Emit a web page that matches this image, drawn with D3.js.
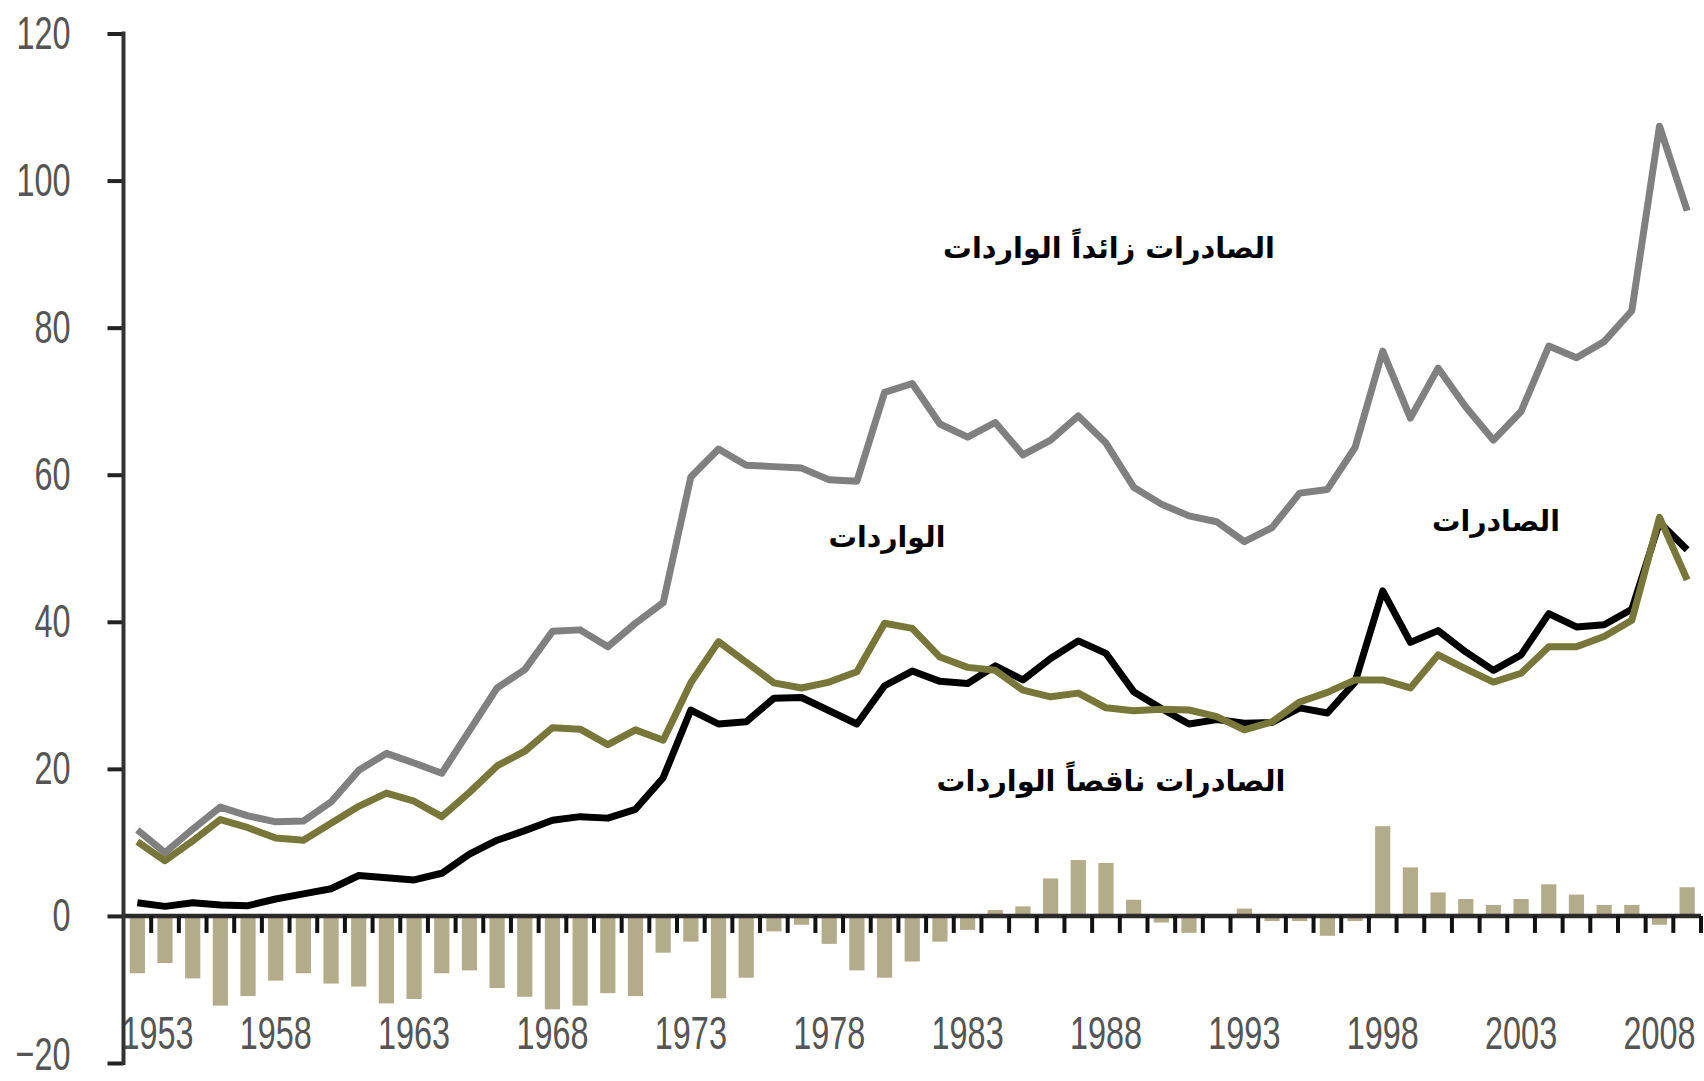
<!DOCTYPE html>
<html lang="ar">
<head>
  <meta charset="UTF-8">
  <title>الصادرات والواردات</title>
  <script src="https://d3js.org/d3.v7.min.js"></script>
  <style>
    body { margin: 0; background: #fff; }
    svg { display: block; }
    .num { font-family: "Liberation Sans", Arial, sans-serif; font-size: 47px; fill: #555; }
    .note { font-family: "DejaVu Sans", sans-serif; font-weight: bold; fill: #000; }
  </style>
</head>
<body>
<svg id="chart" width="1704" height="1081"></svg>
<script>
  // années (catégories)
  const years = [1953, 1954, 1955, 1956, 1957, 1958, 1959, 1960, 1961, 1962,
    1963, 1964, 1965, 1966, 1967, 1968, 1969, 1970, 1971, 1972,
    1973, 1974, 1975, 1976, 1977, 1978, 1979, 1980, 1981, 1982,
    1983, 1984, 1985, 1986, 1987, 1988, 1989, 1990, 1991, 1992,
    1993, 1994, 1995, 1996, 1997, 1998, 1999, 2000, 2001, 2002,
    2003, 2004, 2005, 2006, 2007, 2008, 2009];

  // الصادرات زائداً الواردات (gris)
  const tradeTotal = [11.7, 8.6, 11.8, 14.8, 13.6, 12.8, 12.9, 15.5, 19.8, 22.1,
    20.8, 19.4, 25.2, 31.0, 33.5, 38.7, 38.9, 36.6, 39.8, 42.6,
    59.7, 63.5, 61.3, 61.1, 60.9, 59.3, 59.1, 71.2, 72.4, 66.9,
    65.1, 67.1, 62.7, 64.7, 68.0, 64.3, 58.3, 56.0, 54.4, 53.6,
    50.9, 52.8, 57.5, 58.0, 63.7, 76.8, 67.7, 74.5, 69.2, 64.7,
    68.6, 77.5, 75.9, 78.1, 82.3, 107.4, 95.9];

  // الصادرات (noir)
  const exportsSeries = [1.8, 1.3, 1.8, 1.5, 1.4, 2.3, 3.0, 3.7, 5.5, 5.2,
    4.9, 5.8, 8.4, 10.3, 11.6, 13.0, 13.5, 13.3, 14.5, 18.8,
    28.0, 26.1, 26.4, 29.6, 29.7, 27.9, 26.1, 31.3, 33.3, 31.9,
    31.6, 34.0, 32.1, 35.0, 37.4, 35.7, 30.5, 28.2, 26.1, 26.7,
    26.2, 26.3, 28.3, 27.6, 31.8, 44.2, 37.2, 38.8, 35.9, 33.4,
    35.5, 41.1, 39.3, 39.6, 41.7, 53.5, 49.8];

  // الواردات (olive)
  const importsSeries = [10.1, 7.5, 10.2, 13.1, 12.0, 10.6, 10.3, 12.6, 14.9, 16.7,
    15.6, 13.5, 16.8, 20.4, 22.4, 25.6, 25.4, 23.3, 25.3, 23.9,
    31.7, 37.3, 34.5, 31.7, 31.0, 31.8, 33.2, 39.8, 39.1, 35.2,
    33.8, 33.4, 30.7, 29.8, 30.3, 28.3, 27.9, 28.1, 28.0, 27.1,
    25.3, 26.4, 29.1, 30.4, 32.1, 32.1, 31.0, 35.5, 33.6, 31.8,
    33.0, 36.6, 36.6, 38.0, 40.2, 54.2, 45.7];

  // الصادرات ناقصاً الواردات (barres)
  const balance = [-7.8, -6.4, -8.5, -12.2, -10.9, -8.8, -7.8, -9.2, -9.6, -11.9,
    -11.3, -7.8, -7.4, -9.8, -11.0, -12.7, -12.2, -10.5, -10.9, -5.0,
    -3.5, -11.2, -8.4, -2.1, -1.2, -3.8, -7.4, -8.4, -6.2, -3.5,
    -1.9, 0.8, 1.3, 5.1, 7.6, 7.2, 2.2, -0.9, -2.3, 0.0,
    1.0, -0.7, -0.7, -2.7, -0.7, 12.2, 6.6, 3.2, 2.3, 1.5,
    2.3, 4.3, 2.9, 1.5, 1.5, -1.2, 3.9];

  const yearLabels = [1953, 1958, 1963, 1968, 1973, 1978, 1983, 1988, 1993, 1998, 2003, 2008];
  const yTicks = [-20, 0, 20, 40, 60, 80, 100, 120];

  const notes = [
    { text: "الصادرات زائداً الواردات", cx: 1109, cy: 248, w: 332 },
    { text: "الواردات", cx: 887, cy: 537, w: 117 },
    { text: "الصادرات", cx: 1496, cy: 521, w: 128 },
    { text: "الصادرات ناقصاً الواردات", cx: 1111, cy: 781, w: 349 }
  ];

  const svg = d3.select("#chart");
  const width = +svg.attr("width"), height = +svg.attr("height");
  const x0 = 123.5, x1 = 1701;
  const squeeze = 0.69; // chiffres étroits

  const x = d3.scaleBand().domain(years).range([x0, x1]);
  const xBar = d3.scaleBand().domain(years).range([x0, x1]).paddingInner(0.45).paddingOuter(0.225);
  const y = d3.scaleLinear().domain([-20, 120]).range([1063, 33.5]);
  const xc = d => x(d) + x.bandwidth() / 2;

  // barres
  svg.append("g")
    .selectAll("rect")
    .data(balance)
    .join("rect")
    .attr("x", (d, i) => xBar(years[i]))
    .attr("y", d => y(Math.max(0, d)))
    .attr("width", xBar.bandwidth())
    .attr("height", d => Math.abs(y(d) - y(0)))
    .attr("fill", "#b3ac8a");

  // ligne zéro + graduations
  svg.append("line")
    .attr("x1", x0).attr("x2", x1)
    .attr("y1", y(0)).attr("y2", y(0))
    .attr("stroke", "#2a2a2a").attr("stroke-width", 4.5);

  svg.append("g")
    .selectAll("line")
    .data(years)
    .join("line")
    .attr("x1", d => x(d) + x.bandwidth())
    .attr("x2", d => x(d) + x.bandwidth())
    .attr("y1", y(0))
    .attr("y2", y(0) + 17)
    .attr("stroke", "#111")
    .attr("stroke-width", 4);

  // courbes
  const line = d3.line()
    .x((d, i) => xc(years[i]))
    .y(d => y(d));

  [[tradeTotal, "#808080"], [exportsSeries, "#000"], [importsSeries, "#77773a"]].forEach(([s, c]) => {
    svg.append("path")
      .datum(s)
      .attr("fill", "none")
      .attr("stroke", c)
      .attr("stroke-width", 7)
      .attr("stroke-linejoin", "round")
      .attr("d", line);
  });

  // libellés des années
  svg.append("g")
    .selectAll("text")
    .data(yearLabels)
    .join("text")
    .attr("class", "num")
    .attr("text-anchor", "middle")
    .text(d => d)
    .each(function (d) {
      const w = this.getComputedTextLength() * squeeze;
      let cx = xc(d);
      if (cx - w / 2 < x0) cx = x0 - 2 + w / 2;
      d3.select(this).attr("transform", `translate(${cx},1049) scale(${squeeze},1)`);
    });

  // axe vertical
  const yAxis = d3.axisLeft(y).tickValues(yTicks).tickSize(16).tickPadding(37);
  const gy = svg.append("g").attr("transform", `translate(${x0},0)`).call(yAxis);
  gy.select(".domain").remove();
  gy.selectAll(".tick line").attr("stroke", "#222").attr("stroke-width", 4);
  gy.selectAll(".tick text")
    .attr("class", "num")
    .attr("font-family", null)
    .attr("font-size", null)
    .attr("fill", null)
    .attr("x", 0)
    .attr("transform", `translate(-53,0) scale(${squeeze},1)`)
    .each(function (d) {
      // garder le libellé du bas dans l'image
      const bottom = y(d) + 15 + 47 * 0.22;
      const dy = bottom > height ? 15 - (bottom - height) - 1 : 15;
      d3.select(this).attr("dy", dy + "px");
    });

  svg.append("line")
    .attr("x1", x0).attr("x2", x0)
    .attr("y1", y(120) - 2).attr("y2", y(-20) + 2)
    .attr("stroke", "#333").attr("stroke-width", 4);

  // annotations
  notes.forEach(n => {
    const t = svg.append("text")
      .attr("class", "note")
      .attr("x", n.cx)
      .attr("y", n.cy)
      .attr("text-anchor", "middle")
      .attr("dominant-baseline", "central")
      .style("font-size", "30px")
      .text(n.text);
    const k = n.w / t.node().getComputedTextLength();
    t.style("font-size", (30 * k) + "px");
  });
</script>
</body>
</html>
